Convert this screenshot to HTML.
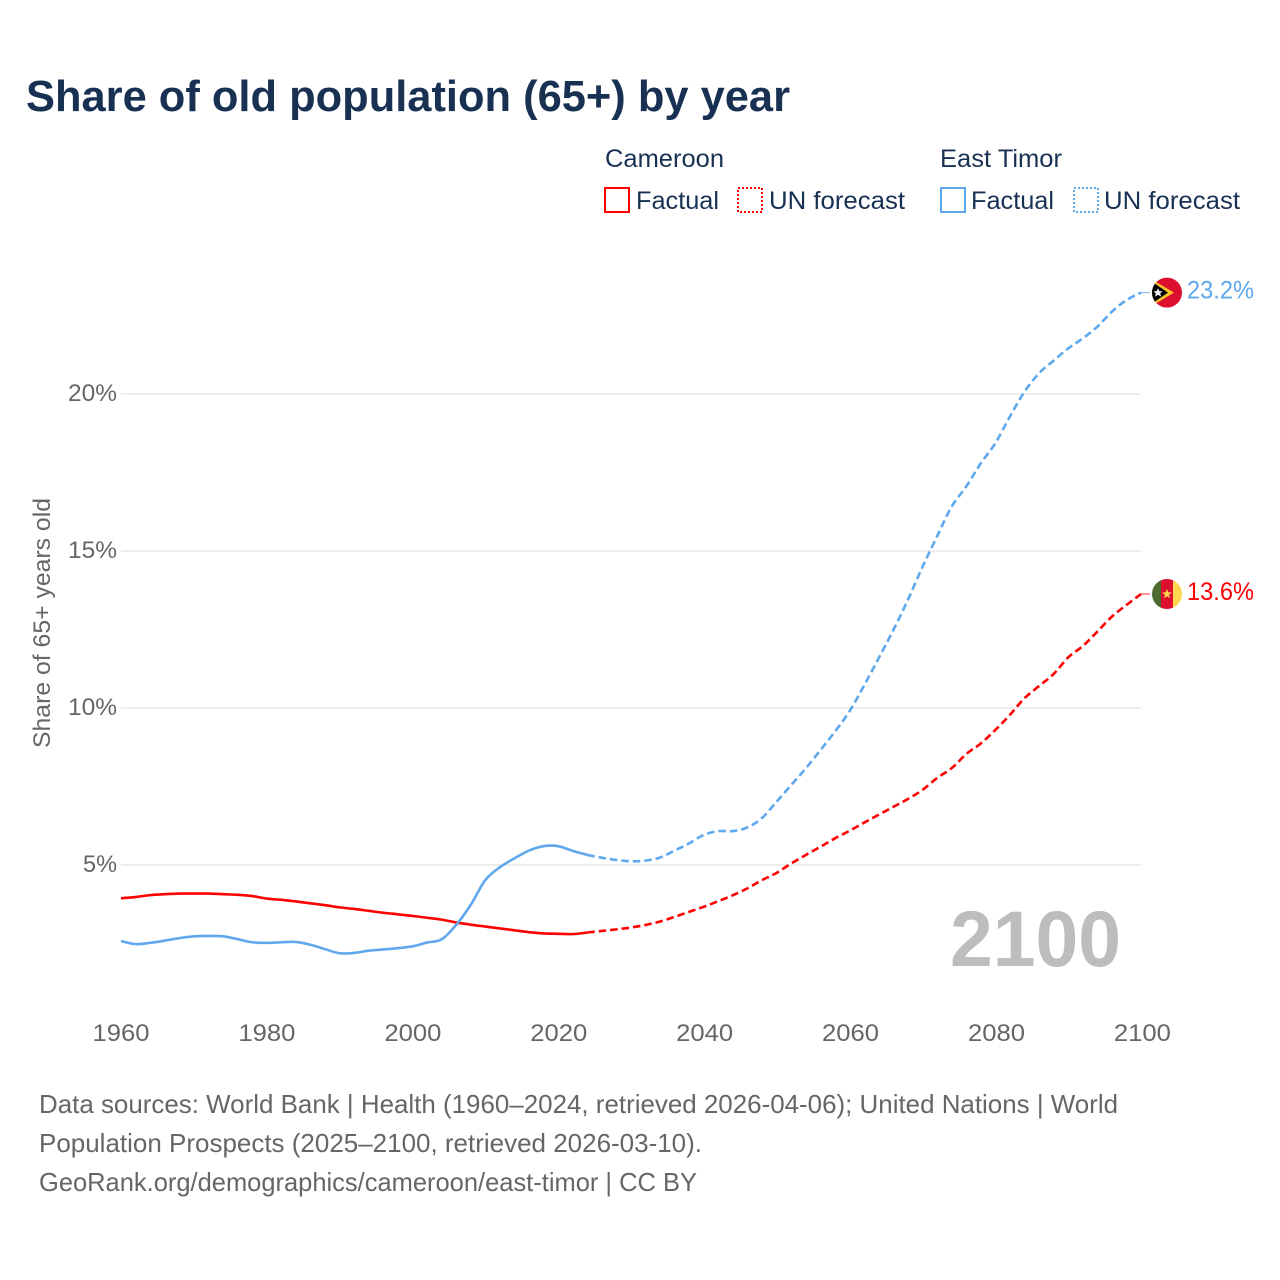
<!DOCTYPE html>
<html lang="en">
<head>
<meta charset="utf-8">
<title>Share of old population (65+) by year</title>
<style>
html,body{margin:0;padding:0;background:#fff;}
svg{display:block;font-family:"Liberation Sans",sans-serif;}
</style>
</head>
<body>
<svg id="chart" xmlns="http://www.w3.org/2000/svg" width="1280" height="1280" viewBox="0 0 1280 1280">
  <rect x="0" y="0" width="1280" height="1280" fill="#fff"/>
  <text x="26" y="111" font-size="44" font-weight="700" fill="#183153" textLength="764" lengthAdjust="spacingAndGlyphs">Share of old population (65+) by year</text>

  <g font-size="25" fill="#183153">
    <text x="605" y="167" textLength="119" lengthAdjust="spacingAndGlyphs">Cameroon</text>
    <rect x="605" y="188" width="24" height="24" fill="none" stroke="#ff0000" stroke-width="2"/>
    <text x="636" y="209" textLength="83" lengthAdjust="spacingAndGlyphs">Factual</text>
    <rect x="738" y="188" width="24" height="24" fill="none" stroke="#ff0000" stroke-width="2" stroke-dasharray="2 2"/>
    <text x="769" y="209" textLength="136" lengthAdjust="spacingAndGlyphs">UN forecast</text>
    <text x="940" y="167" textLength="122" lengthAdjust="spacingAndGlyphs">East Timor</text>
    <rect x="941" y="188" width="24" height="24" fill="none" stroke="#5fa8ee" stroke-width="2"/>
    <text x="971" y="209" textLength="83" lengthAdjust="spacingAndGlyphs">Factual</text>
    <rect x="1074" y="188" width="24" height="24" fill="none" stroke="#5fa8ee" stroke-width="2" stroke-dasharray="2 2"/>
    <text x="1104" y="209" textLength="136" lengthAdjust="spacingAndGlyphs">UN forecast</text>
  </g>

  <g id="grid"></g>
  <g id="yticks"></g>
  <g id="xticks"></g>
  <text transform="translate(50,748) rotate(-90)" font-size="24" fill="#666" textLength="250" lengthAdjust="spacingAndGlyphs">Share of 65+ years old</text>
  <text x="950" y="966" font-size="79" font-weight="700" fill="#bdbdbd" textLength="171" lengthAdjust="spacingAndGlyphs">2100</text>
  <g id="series"></g>

  <defs>
    <clipPath id="flag-clip-tl"><circle cx="0" cy="0" r="15"/></clipPath>
  </defs>
  <g id="flag-timor">
    <g clip-path="url(#flag-clip-tl)">
      <rect x="-15" y="-15" width="30" height="30" fill="#dc0f2e"/>
      <polygon points="-15,-13 7,0 -15,13" fill="#ffc726"/>
      <polygon points="-15,-11 1,0 -15,11" fill="#000"/>
      <polygon points="-9,-4.5 -7.6,-1.5 -4.5,-1.5 -6.8,0.8 -5.8,4 -9,2.3 -12,4 -11.2,0.8 -13.5,-1.5 -10.4,-1.5" fill="#eee"/>
    </g>
  </g>
  <g id="flag-cameroon">
    <g clip-path="url(#flag-clip-tl)">
      <rect x="-15" y="-15" width="9" height="30" fill="#4e6b2f"/>
      <rect x="-6" y="-15" width="12" height="30" fill="#dc0f2e"/>
      <rect x="6" y="-15" width="9" height="30" fill="#ffd750"/>
      <polygon points="0,-5 1.3,-1.6 5,-1.6 2,0.7 3.1,4.3 0,2.2 -3.1,4.3 -2,0.7 -5,-1.6 -1.3,-1.6" fill="#ffd750"/>
    </g>
  </g>
  <text id="label-timor" x="1187" font-size="25" fill="#5fa8ee" textLength="67" lengthAdjust="spacingAndGlyphs"></text>
  <text id="label-cameroon" x="1187" font-size="25" fill="#ff0000" textLength="67" lengthAdjust="spacingAndGlyphs"></text>

  <g font-size="26" fill="#666">
    <text x="39" y="1113" textLength="1079" lengthAdjust="spacingAndGlyphs">Data sources: World Bank | Health (1960–2024, retrieved 2026-04-06); United Nations | World</text>
    <text x="39" y="1152" textLength="663" lengthAdjust="spacingAndGlyphs">Population Prospects (2025–2100, retrieved 2026-03-10).</text>
    <text x="39" y="1191" textLength="658" lengthAdjust="spacingAndGlyphs">GeoRank.org/demographics/cameroon/east-timor | CC BY</text>
  </g>
</svg>
<script>
const factualYears = [1960,1962,1964,1966,1968,1970,1972,1974,1976,1978,1980,1982,1984,1986,1988,1990,1992,1994,1996,1998,2000,2002,2004,2006,2008,2010,2012,2014,2016,2018,2020,2022,2024];
const forecastYears = [2024,2026,2028,2030,2032,2034,2036,2038,2040,2042,2044,2046,2048,2050,2052,2054,2056,2058,2060,2062,2064,2066,2068,2070,2072,2074,2076,2078,2080,2082,2084,2086,2088,2090,2092,2094,2096,2098,2100];
const cameroonFactual = [3.94,3.98,4.04,4.07,4.09,4.09,4.09,4.07,4.05,4.01,3.93,3.89,3.84,3.78,3.72,3.65,3.60,3.54,3.48,3.43,3.38,3.32,3.26,3.17,3.10,3.04,2.98,2.92,2.86,2.82,2.81,2.80,2.85];
const cameroonForecast = [2.85,2.90,2.95,3.01,3.09,3.20,3.35,3.51,3.67,3.85,4.04,4.26,4.52,4.75,5.05,5.32,5.58,5.85,6.09,6.35,6.60,6.85,7.10,7.39,7.77,8.08,8.53,8.87,9.30,9.78,10.31,10.70,11.08,11.61,11.97,12.43,12.91,13.28,13.63];
const timorFactual = [2.58,2.48,2.52,2.59,2.67,2.73,2.74,2.73,2.64,2.54,2.52,2.54,2.55,2.46,2.32,2.19,2.20,2.27,2.31,2.35,2.41,2.53,2.63,3.09,3.73,4.52,4.93,5.21,5.46,5.60,5.60,5.45,5.32];
const timorForecast = [5.32,5.23,5.16,5.12,5.14,5.24,5.46,5.69,5.96,6.08,6.08,6.20,6.50,7.02,7.55,8.08,8.66,9.25,9.90,10.72,11.59,12.48,13.44,14.49,15.46,16.41,17.05,17.79,18.43,19.28,20.07,20.66,21.06,21.45,21.77,22.14,22.62,22.99,23.23];
const yTickValues = [5,10,15,20];
const xTickValues = [1960,1980,2000,2020,2040,2060,2080,2100];

const NS = 'http://www.w3.org/2000/svg';
function xScale(year){ return 121 + (year - 1960) * (1020 / 140); }
function yScale(v){ return 1022 - v * 31.4; }
function make(tag, attrs, parent){
  const el = document.createElementNS(NS, tag);
  for (const k in attrs) el.setAttribute(k, attrs[k]);
  parent.appendChild(el);
  return el;
}
function smoothPath(xs, vs){
  const p = xs.map((x, i) => [xScale(x), yScale(vs[i])]);
  let d = 'M' + p[0][0].toFixed(2) + ' ' + p[0][1].toFixed(2);
  for (let i = 0; i < p.length - 1; i++){
    const a = p[Math.max(i - 1, 0)], b = p[i], c = p[i + 1], e = p[Math.min(i + 2, p.length - 1)];
    const c1x = b[0] + (c[0] - a[0]) / 6, c1y = b[1] + (c[1] - a[1]) / 6;
    const c2x = c[0] - (e[0] - b[0]) / 6, c2y = c[1] - (e[1] - b[1]) / 6;
    d += 'C' + c1x.toFixed(2) + ' ' + c1y.toFixed(2) + ' ' + c2x.toFixed(2) + ' ' + c2y.toFixed(2) + ' ' + c[0].toFixed(2) + ' ' + c[1].toFixed(2);
  }
  return d;
}

const grid = document.getElementById('grid');
const yticks = document.getElementById('yticks');
yTickValues.forEach(v => {
  const line = make('line', {x1: xScale(1960), x2: xScale(2100), y1: yScale(v), y2: yScale(v), stroke: '#eeeeee', 'stroke-width': 2}, grid);
  
  
  const label = make('text', {x: 117, y: yScale(v) + 7, 'text-anchor': 'end', 'font-size': 24, fill: '#666', textLength: v < 10 ? 34 : 49, lengthAdjust: 'spacingAndGlyphs'}, yticks);
  label.textContent = v + '%';
  
  
});

const xticks = document.getElementById('xticks');
xTickValues.forEach(y => {
  const label = make('text', {x: xScale(y) - 28.5 + (y - 1960) / 100, y: 1041, 'font-size': 24, fill: '#666', textLength: 57, lengthAdjust: 'spacingAndGlyphs'}, xticks);
  label.textContent = y;
  
  
});

const series = document.getElementById('series');
function drawLine(xs, vs, color, dashed, name){
  const attrs = {d: smoothPath(xs, vs), fill: 'none', stroke: color, 'stroke-width': 2.6, 'stroke-linejoin': 'round'};
  if (dashed) attrs['stroke-dasharray'] = '7.5 4';
  const path = make('path', attrs, series);
  
  
}
drawLine(factualYears, cameroonFactual, '#ff0000', false, 'cameroon-factual-line');
drawLine(forecastYears, cameroonForecast, '#ff0000', true, 'cameroon-forecast-line');
drawLine(factualYears, timorFactual, '#5fa8ee', false, 'east-timor-factual-line');
drawLine(forecastYears, timorForecast, '#5fa8ee', true, 'east-timor-forecast-line');

function placeEnd(values, color, flagId, labelId, name){
  const last = values[values.length - 1];
  const y = yScale(last);
  const lead = make('line', {x1: xScale(2100), x2: 1150, y1: y, y2: y, stroke: color, 'stroke-width': 1.2, opacity: 0.7}, series);
  
  
  document.getElementById(flagId).setAttribute('transform', 'translate(1167,' + y.toFixed(2) + ')');
  const label = document.getElementById(labelId);
  label.setAttribute('y', (y + 6).toFixed(2));
  label.textContent = last.toFixed(1) + '%';
}
placeEnd(timorForecast, '#5fa8ee', 'flag-timor', 'label-timor', 'east-timor-leader-line');
placeEnd(cameroonForecast, '#ff0000', 'flag-cameroon', 'label-cameroon', 'cameroon-leader-line');
</script>
</body>
</html>
